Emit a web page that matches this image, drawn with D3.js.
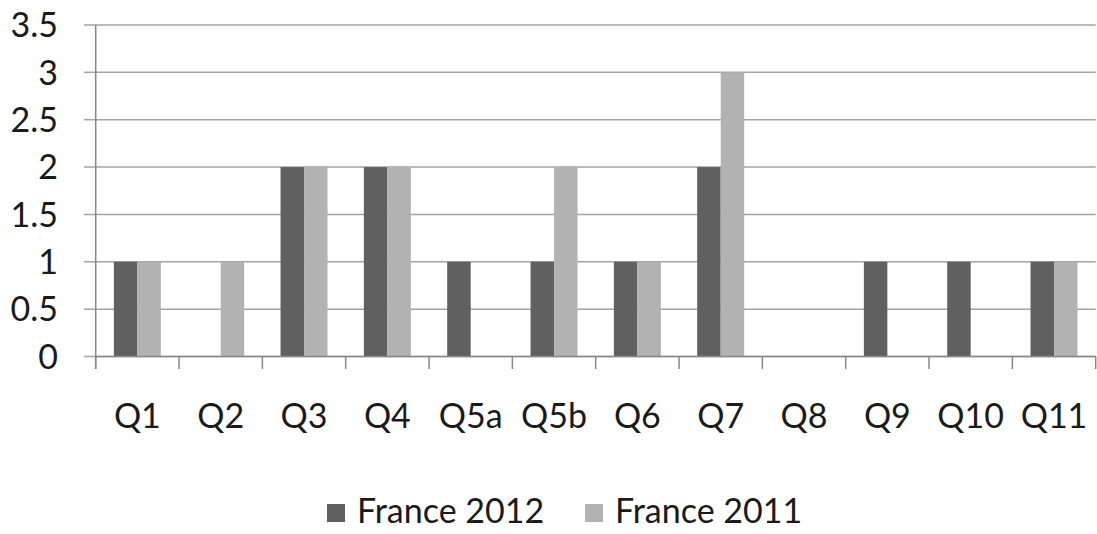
<!DOCTYPE html>
<html><head><meta charset="utf-8">
<script src="https://cdn.jsdelivr.net/npm/d3@7"></script>
<style>html,body{margin:0;padding:0;background:#fff}svg{display:block}</style>
</head><body>
<svg id="c" width="1097" height="534"></svg>
<script>
const categories = ["Q1","Q2","Q3","Q4","Q5a","Q5b","Q6","Q7","Q8","Q9","Q10","Q11"];
const seriesNames = ["France 2012","France 2011"];
const france2012 = [1,0,2,2,1,1,1,2,0,1,1,1];
const france2011 = [1,1,2,2,0,2,1,3,0,0,0,1];
const yTicks = [0,0.5,1,1.5,2,2.5,3,3.5];
const colors = ["#606060","#b2b2b2"];

(function(){
const svg = d3.select("#c");
const font = "Lato, 'Open Sans', sans-serif";
const pLeft = 95.7, pRight = 1095.7, pTop = 25, pBottom = 356.5;

const x0 = d3.scaleBand().domain(categories).range([pLeft,pRight]).paddingInner(0.436).paddingOuter(0.218);
const x1 = d3.scaleBand().domain([0,1]).range([0,x0.bandwidth()]);
const y = d3.scaleLinear().domain([0,3.5]).range([pBottom,pTop]);

svg.append("g").selectAll("line").data(yTicks).join("line")
  .attr("x1",84).attr("x2",pRight).attr("y1",d=>y(d)).attr("y2",d=>y(d))
  .attr("stroke","#a3a3a3").attr("stroke-width",1.5);

svg.append("g").selectAll("text").data(yTicks).join("text")
  .attr("x",58).attr("y",d=>y(d)).attr("dy","0.36em").attr("text-anchor","end")
  .attr("font-family",font).attr("font-size",34).attr("fill","#1a1a1a")
  .text(d=>d);

const data = categories.map((c,i)=>({c, v:[france2012[i], france2011[i]]}));
const g = svg.append("g").selectAll("g").data(data).join("g")
  .attr("transform",d=>`translate(${x0(d.c)},0)`);
g.selectAll("rect").data(d=>d.v.map((v,k)=>({v,k}))).join("rect")
  .attr("x",d=>x1(d.k)).attr("width",x1.bandwidth())
  .attr("y",d=>y(d.v)).attr("height",d=>y(0)-y(d.v))
  .attr("fill",d=>colors[d.k]);

svg.append("line").attr("x1",pLeft).attr("x2",pLeft).attr("y1",pTop).attr("y2",369)
  .attr("stroke","#888").attr("stroke-width",1.5);
svg.append("line").attr("x1",pLeft).attr("x2",pRight).attr("y1",pBottom).attr("y2",pBottom)
  .attr("stroke","#888").attr("stroke-width",1.5);
const tickPos = categories.map(c=>x0(c)-x0.step()*x0.paddingInner()/2).concat([pRight]);
svg.append("g").selectAll("line").data(tickPos).join("line")
  .attr("x1",d=>d).attr("x2",d=>d).attr("y1",pBottom).attr("y2",369)
  .attr("stroke","#888").attr("stroke-width",1.5);

svg.append("g").selectAll("text").data(categories).join("text")
  .attr("x",c=>x0(c)+x0.bandwidth()/2).attr("y",428).attr("text-anchor","middle")
  .attr("font-family",font).attr("font-size",34).attr("fill","#1a1a1a").text(c=>c);

const legX = [327,585];
const leg = svg.append("g").selectAll("g").data(seriesNames).join("g")
  .attr("transform",(d,i)=>`translate(${legX[i]},0)`);
leg.append("rect").attr("x",0).attr("y",504).attr("width",18).attr("height",18).attr("fill",(d,i)=>colors[i]);
leg.append("text").attr("x",30).attr("y",523).attr("font-family",font).attr("font-size",34)
  .attr("fill","#1a1a1a").text(d=>d);
})();
</script>
</body></html>
